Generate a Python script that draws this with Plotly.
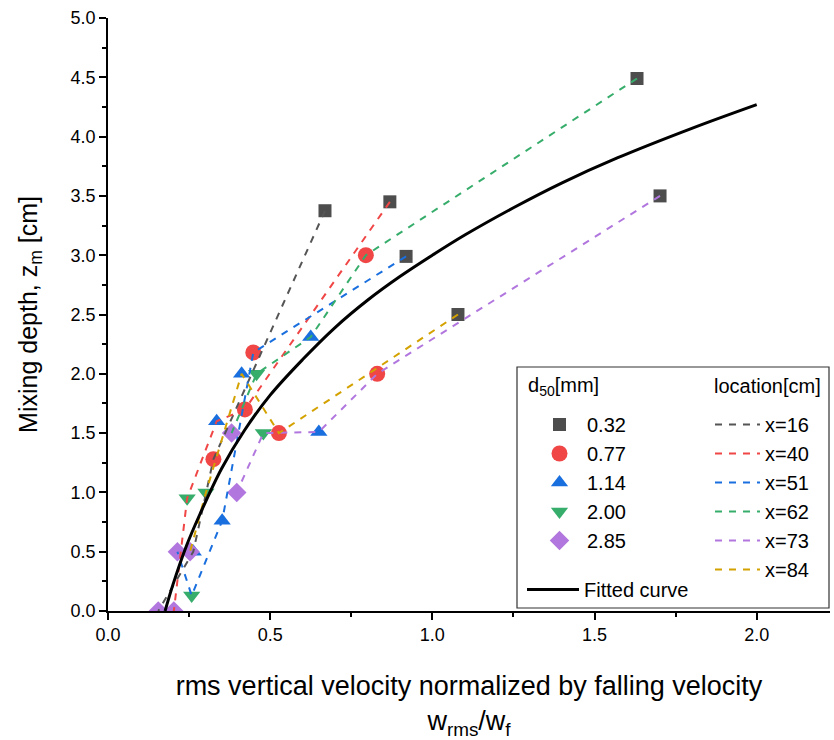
import plotly.graph_objects as go

# ---------------- data ----------------
locations = ["x=16", "x=40", "x=51", "x=62", "x=73", "x=84"]
d50_labels = ["0.32", "0.77", "1.14", "2.00", "2.85"]

# values per grain size, ordered by location (16, 40, 51, 62, 73, 84)
d032_x = [0.669, 0.869, 0.919, 1.631, 1.702, 1.079]
d032_z = [3.375, 3.45, 2.99, 4.49, 3.50, 2.50]
d077_x = [0.325, 0.422, 0.448, 0.795, 0.830, 0.527]
d077_z = [1.28, 1.70, 2.18, 3.00, 2.00, 1.50]
d114_x = [0.263, 0.335, 0.352, 0.625, 0.650, 0.412]
d114_z = [0.50, 1.60, 0.76, 2.31, 1.51, 2.00]
d200_x = [None, 0.244, 0.258, 0.458, 0.479, 0.302]
d200_z = [None, 0.95, 0.13, 2.00, 1.50, 1.00]
d285_x = [0.155, 0.203, 0.214, 0.381, 0.397, 0.253]
d285_z = [0.00, 0.00, 0.50, 1.50, 1.00, 0.50]

# fitted curve
fit_x = [0.176, 0.20, 0.242, 0.284, 0.35, 0.42, 0.50, 0.60, 0.70, 0.80, 0.90,
         1.00, 1.10, 1.25, 1.40, 1.57, 1.80, 2.00]
fit_z = [0.00, 0.22, 0.55, 0.82, 1.20, 1.52, 1.82, 2.12, 2.39, 2.62, 2.82,
         3.00, 3.17, 3.40, 3.61, 3.82, 4.07, 4.27]

# ---------------- styles ----------------
series_x = [d032_x, d077_x, d114_x, d200_x, d285_x]
series_z = [d032_z, d077_z, d114_z, d200_z, d285_z]
marker_symbols = ["square", "circle", "triangle-up", "triangle-down", "diamond"]
marker_colors = ["#4d4d4d", "#f04646", "#1a6fdf", "#37ad6b", "#b177de"]
marker_sizes = [13, 16, 15, 15, 15]
line_colors = ["#555555", "#f04646", "#1a6fdf", "#37ad6b", "#b177de", "#d4a200"]

FONT = "Liberation Sans, Arial, sans-serif"

fig = go.Figure()

# markers, one trace per grain size
for lab, xs, zs, sym, col, sz in zip(d50_labels, series_x, series_z,
                                     marker_symbols, marker_colors, marker_sizes):
    fig.add_trace(go.Scatter(
        x=xs, y=zs, mode="markers", name=lab,
        marker=dict(symbol=sym, color=col, size=sz, line=dict(width=0)),
        legend="legend", showlegend=True))

# dashed lines, one per location, connecting grain sizes in order
for i, (loc, col) in enumerate(zip(locations, line_colors)):
    lx = [s[i] for s in series_x]
    lz = [s[i] for s in series_z]
    fig.add_trace(go.Scatter(
        x=lx, y=lz, mode="lines", name=loc, connectgaps=True,
        line=dict(color=col, width=2, dash="7px,7px"),
        legend="legend2", showlegend=True))

fig.add_trace(go.Scatter(
    x=fit_x, y=fit_z, mode="lines", name="Fitted curve",
    line=dict(color="black", width=3, shape="spline", smoothing=1.0),
    legend="legend3", showlegend=True))

# ---------------- layout ----------------
L, R, T, B = 108, 4, 18, 129
W, H = 834, 740
pw, ph = W - L - R, H - T - B

def px2paper(px, py):
    return (px - L) / pw, (H - B - py) / ph

bx0, by0 = px2paper(517, 608)
bx1, by1 = px2paper(829, 367)

lg1x, lg1y = px2paper(532, 405)
lg2x, lg2y = px2paper(710, 405)
lg3x, lg3y = px2paper(522, 570)

fig.update_layout(
    width=W, height=H,
    margin=dict(l=L, r=R, t=T, b=B),
    paper_bgcolor="white", plot_bgcolor="white",
    font=dict(family=FONT, size=18, color="black"),
    xaxis=dict(
        range=[0, 2.226], showgrid=False, zeroline=False,
        showline=True, linecolor="black", linewidth=1.5,
        ticks="outside", ticklen=7, tickwidth=1.5, tickcolor="black",
        dtick=0.5, tick0=0, tickformat=".1f",
        minor=dict(ticks="outside", ticklen=4, tickwidth=1.5, tickcolor="black", dtick=0.25),
        tickfont=dict(size=18),
        title=dict(text="rms vertical velocity normalized by falling velocity<br>w<sub>rms</sub>/w<sub>f</sub>",
                   font=dict(size=27), standoff=32),
    ),
    yaxis=dict(
        range=[0, 5], showgrid=False, zeroline=False,
        showline=True, linecolor="black", linewidth=1.5,
        ticks="outside", ticklen=7, tickwidth=1.5, tickcolor="black",
        dtick=0.5, tick0=0, tickformat=".1f",
        minor=dict(ticks="outside", ticklen=4, tickwidth=1.5, tickcolor="black", dtick=0.25),
        tickfont=dict(size=18),
        title=dict(text="Mixing depth, z<sub>m</sub> [cm]", font=dict(size=25), standoff=26),
    ),
    legend=dict(x=lg1x, y=lg1y, xanchor="left", yanchor="top",
                bgcolor="rgba(0,0,0,0)", borderwidth=0, font=dict(size=20),
                tracegroupgap=0, itemwidth=45),
    legend2=dict(x=lg2x, y=lg2y, xanchor="left", yanchor="top",
                 bgcolor="rgba(0,0,0,0)", borderwidth=0, font=dict(size=20),
                 tracegroupgap=0, itemwidth=45),
    legend3=dict(x=lg3x, y=lg3y, xanchor="left", yanchor="top",
                 bgcolor="rgba(0,0,0,0)", borderwidth=0, font=dict(size=20),
                 itemwidth=52),
    shapes=[dict(type="rect", xref="paper", yref="paper",
                 x0=bx0, y0=by0, x1=bx1, y1=by1,
                 line=dict(color="#333333", width=1.2), fillcolor="rgba(0,0,0,0)")],
    annotations=[
        dict(text="d<sub>50</sub>[mm]", xref="paper", yref="paper",
             x=px2paper(526, 0)[0], y=px2paper(0, 386)[1], xanchor="left", yanchor="middle",
             showarrow=False, font=dict(size=20)),
        dict(text="location[cm]", xref="paper", yref="paper",
             x=px2paper(823, 0)[0], y=px2paper(0, 386)[1], xanchor="right", yanchor="middle",
             showarrow=False, font=dict(size=20)),
    ],
)

fig.write_html("out.html")
